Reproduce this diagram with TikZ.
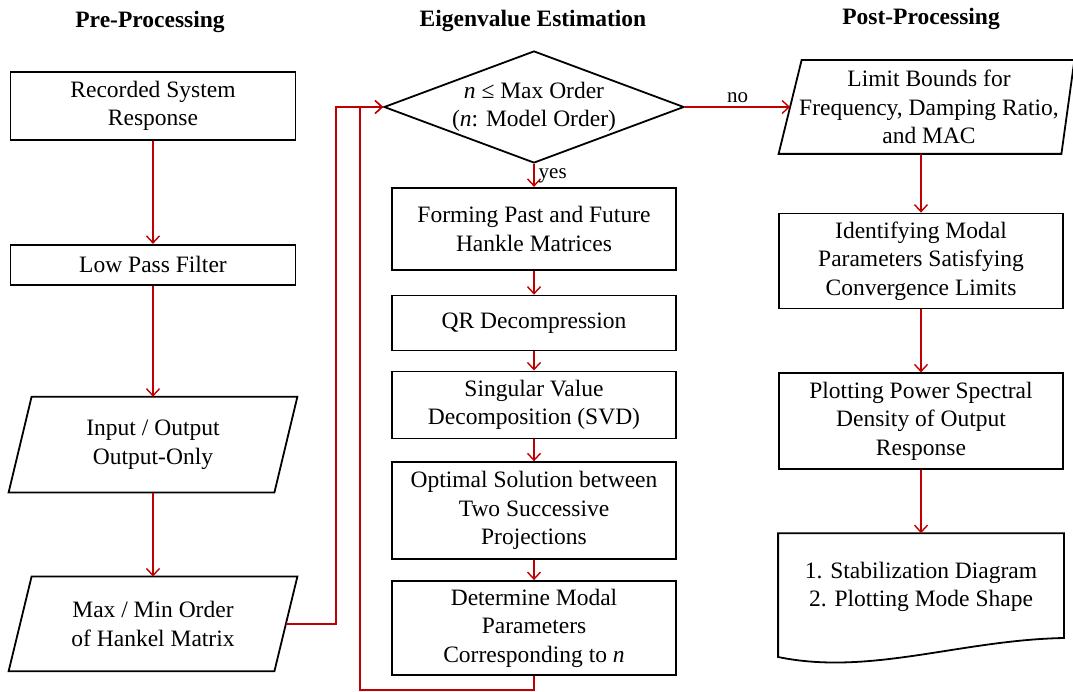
\documentclass[tikz,border=0pt]{standalone}
\usepackage{fontspec}
\setmainfont{Liberation Serif}
\usetikzlibrary{positioning, shapes.geometric, arrows.meta}
\definecolor{flowred}{HTML}{C00000}

\begin{document}
\begin{tikzpicture}[x=1pt, y=-1pt, node distance=20pt,
	blk/.style={rectangle, draw, line width=1.8pt, minimum width=284pt, align=center, inner sep=0pt, font=\fontsize{23.5}{28.5}\selectfont},
	par/.style={blk, draw=none, minimum width=264pt},
	dec/.style={blk, diamond, aspect=2.68, minimum width=300pt, minimum height=112pt, inner sep=-3pt},
	hd/.style={font=\fontsize{23.5}{28.5}\selectfont\bfseries},
	lbl/.style={font=\fontsize{21}{24}\selectfont, inner sep=4pt},
	ar/.style={draw=flowred, line width=1.4pt, -{Straight Barb[length=7pt, width=13pt]}}]
		\useasboundingbox (0,0) rectangle (1073,692);

		\node[hd] (T1) at (150,22) {Pre-Processing};
		\node[hd] (T2) at (533,21) {Eigenvalue Estimation};
		\node[hd] (T3) at (921,19) {Post-Processing};

		% pre-processing
		\node[blk, minimum width=285pt, minimum height=68pt] (R) at (153,106) {Recorded System\\Response};
		\node[blk, minimum width=285pt, minimum height=40pt, below=103pt of R] (F) {Low Pass Filter};
		\node[par, minimum height=94pt, below=111pt of F] (I) {Input / Output\\Output-Only};
		\node[par, minimum height=93pt, below=84pt of I] (M) {Max / Min Order\\of Hankel Matrix};
		\foreach \n in {I,M}
			\draw[line width=1.8pt] ([xshift=11.5pt]\n.north west) -- ([xshift=11.5pt]\n.north east)
				-- ([xshift=-11.5pt]\n.south east) -- ([xshift=-11.5pt]\n.south west) -- cycle;

		% eigenvalue estimation
		\node[dec] (N) at (534,107) {\textit{n} ≤ Max Order\\(\textit{n}: Model Order)};
		\node[blk, minimum height=82pt, below=23pt of N] (H) {Forming Past and Future\\Hankle Matrices};
		\node[blk, minimum height=55pt, below=24pt of H] (Q) {QR Decompression};
		\node[blk, minimum height=67pt, below=19pt of Q] (S) {Singular Value\\Decomposition (SVD)};
		\node[blk, minimum height=97pt, below=22pt of S] (O) {Optimal Solution between\\Two Successive\\Projections};
		\node[blk, minimum height=94pt, below=20pt of O] (D) {Determine Modal\\Parameters\\Corresponding to \textit{n}};

		% post-processing
		\node[par, minimum width=276pt, minimum height=92pt] (L) at (929,107) {Limit Bounds for\\Frequency, Damping Ratio,\\and MAC};
		\draw[line width=1.8pt] ([xshift=11.5pt]L.north west) -- ([xshift=6.5pt]L.north east)
			-- ([xshift=-6.5pt]L.south east) -- ([xshift=-11.5pt]L.south west) -- cycle;
		\node[blk, minimum height=95pt] (C) at (921,261) {Identifying Modal\\Parameters Satisfying\\Convergence Limits};
		\node[blk, minimum height=96pt, below=63pt of C] (P) {Plotting Power Spectral\\Density of Output\\Response};
		\node[blk, draw=none, minimum height=106pt, below=63pt of P] (G) {1. Stabilization Diagram\\2. Plotting Mode Shape};
		\draw[line width=1.8pt] ([yshift=-16pt]G.south west) -- (G.north west) -- (G.north east) -- ([yshift=3pt]G.south east)
			.. controls (960,640) and (870,676) .. ([yshift=-16pt]G.south west) -- cycle;

		\coordinate (J) at (336,0);
		\coordinate (K) at (360,690);

		\path[ar] (R) -- (F);
		\path[ar] (F) -- (I);
		\path[ar] (I) -- (M);
		\path[ar] (M.east) -| (J |- N.west) -- (N.west);
		\path[ar] (D.south) |- (K) |- (N.west);
		\path[ar] (N.south) -- node[lbl, right] {yes} (H.north);
		\path[ar] (H) -- (Q);
		\path[ar] (Q) -- (S);
		\path[ar] (S) -- (O);
		\path[ar] (O) -- (D);
		\path[ar] (N.east) -- node[lbl, above] {no} (L.west);
		\path[ar] (C.north |- L.south) -- (C.north);
		\path[ar] (C) -- (P);
		\path[ar] (P) -- (G);
	\end{tikzpicture}
\end{document}
